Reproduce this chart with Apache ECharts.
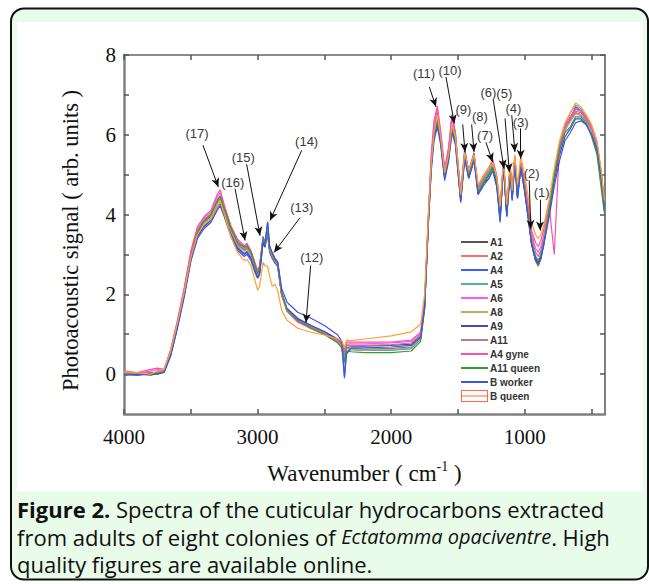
<!DOCTYPE html>
<html>
<head>
<meta charset="utf-8">
<script src="https://cdn.jsdelivr.net/npm/echarts@6/dist/echarts.min.js"></script>
<style>
  html, body { margin: 0; padding: 0; background: #fff; }
  #chart { width: 649px; height: 584px; }
</style>
</head>
<body>
<div id="chart"></div>
<script>
// wavenumbers (cm-1) shared by all spectra
const wavenumber = [
  4000, 3900, 3800, 3750, 3700, 3650, 3600, 3550, 3500, 3450,
  3400, 3350, 3300, 3280, 3250, 3200, 3150, 3100, 3080, 3050,
  3020, 3000, 2985, 2960, 2945, 2925, 2910, 2890, 2870, 2850,
  2820, 2780, 2700, 2600, 2500, 2400, 2370, 2350, 2335, 2300,
  2200, 2000, 1850, 1780, 1750, 1720, 1700, 1680, 1655, 1630,
  1600, 1570, 1545, 1520, 1480, 1450, 1420, 1380, 1350, 1310,
  1270, 1240, 1210, 1185, 1160, 1135, 1110, 1095, 1075, 1055,
  1030, 1005, 975, 950, 920, 900, 880, 860, 820, 780,
  740, 700, 660, 620, 580, 540, 500, 460, 430, 405
];

// photoacoustic signal, one list per sample
const A1 = [
  0.00, 0.03, -0.02, 0.04, 0.08, 0.55, 1.25, 2.05, 2.95, 3.55,
  3.80, 3.95, 4.30, 4.40, 4.10, 3.60, 3.25, 3.10, 3.15, 3.00,
  2.70, 2.50, 2.62, 3.35, 3.25, 3.55, 3.10, 2.95, 2.82, 2.75,
  2.00, 1.60, 1.35, 1.18, 1.03, 0.83, 0.74, 0.35, 0.68, 0.64,
  0.62, 0.64, 0.68, 0.92, 1.70, 4.00, 5.30, 6.00, 6.40, 5.90,
  5.00, 5.50, 6.20, 5.90, 4.40, 5.50, 5.00, 5.45, 4.60, 4.85,
  5.05, 5.25, 4.85, 3.95, 5.30, 4.05, 5.15, 4.45, 5.40, 4.50,
  5.25, 4.75, 4.00, 3.35, 2.95, 2.85, 3.00, 3.30, 4.10, 5.00,
  5.70, 6.15, 6.35, 6.55, 6.50, 6.35, 6.10, 5.70, 5.00, 4.20
];
const A2 = [
  0.02, 0.00, 0.05, 0.02, 0.10, 0.60, 1.30, 2.10, 3.00, 3.62,
  3.88, 4.00, 4.38, 4.47, 4.15, 3.65, 3.30, 3.15, 3.20, 3.05,
  2.75, 2.55, 2.68, 3.40, 3.30, 3.60, 3.15, 3.00, 2.85, 2.78,
  2.02, 1.58, 1.32, 1.15, 1.00, 0.80, 0.72, 0.45, 0.66, 0.62,
  0.60, 0.62, 0.66, 0.90, 1.65, 3.95, 5.25, 6.05, 6.45, 5.95,
  5.05, 5.55, 6.25, 5.95, 4.45, 5.55, 5.05, 5.50, 4.65, 4.90,
  5.10, 5.30, 4.90, 4.00, 5.35, 4.10, 5.20, 4.50, 5.45, 4.55,
  5.30, 4.80, 4.00, 3.30, 2.85, 2.70, 2.90, 3.25, 4.05, 4.95,
  5.65, 6.20, 6.45, 6.65, 6.60, 6.45, 6.20, 5.80, 5.10, 4.30
];
const A4 = [
  -0.02, 0.02, 0.00, 0.03, 0.06, 0.50, 1.20, 2.00, 2.90, 3.48,
  3.72, 3.88, 4.20, 4.30, 4.02, 3.52, 3.18, 3.02, 3.08, 2.92,
  2.62, 2.42, 2.55, 3.45, 3.30, 3.80, 3.20, 3.00, 2.85, 2.78,
  2.05, 1.65, 1.40, 1.22, 1.06, 0.85, 0.70, -0.05, 0.55, 0.62,
  0.60, 0.60, 0.64, 0.88, 1.75, 4.05, 5.35, 6.10, 6.55, 6.00,
  5.10, 5.65, 6.50, 6.05, 4.50, 5.65, 5.10, 5.55, 4.55, 4.80,
  4.90, 5.10, 4.70, 3.80, 5.35, 3.95, 5.25, 4.40, 5.45, 4.45,
  5.30, 4.75, 3.95, 3.25, 2.85, 2.75, 2.90, 3.25, 4.00, 4.90,
  5.60, 6.10, 6.40, 6.70, 6.60, 6.40, 6.15, 5.75, 4.90, 4.10
];
const A5 = [
  0.01, 0.04, 0.00, 0.05, 0.09, 0.56, 1.27, 2.06, 2.97, 3.58,
  3.84, 3.98, 4.35, 4.45, 4.12, 3.62, 3.28, 3.13, 3.17, 3.02,
  2.72, 2.52, 2.64, 3.36, 3.26, 3.58, 3.12, 2.97, 2.84, 2.76,
  2.00, 1.58, 1.33, 1.16, 1.01, 0.80, 0.72, 0.40, 0.66, 0.62,
  0.60, 0.61, 0.65, 0.90, 1.68, 3.98, 5.28, 6.05, 6.45, 5.92,
  5.02, 5.52, 6.22, 5.92, 4.42, 5.52, 5.02, 5.47, 4.62, 4.88,
  5.08, 5.28, 4.88, 3.98, 5.32, 4.08, 5.18, 4.48, 5.42, 4.52,
  5.28, 4.78, 4.02, 3.35, 2.92, 2.82, 2.98, 3.30, 4.12, 5.05,
  5.78, 6.25, 6.55, 6.75, 6.65, 6.45, 6.20, 5.75, 5.05, 4.25
];
const A6 = [
  0.05, 0.02, 0.08, 0.12, 0.10, 0.60, 1.32, 2.12, 3.05, 3.65,
  3.92, 4.05, 4.45, 4.55, 4.22, 3.70, 3.35, 3.20, 3.25, 3.08,
  2.78, 2.58, 2.70, 3.38, 3.28, 3.58, 3.15, 3.00, 2.86, 2.78,
  2.00, 1.58, 1.30, 1.14, 0.99, 0.82, 0.78, 0.55, 0.75, 0.76,
  0.76, 0.78, 0.82, 1.02, 1.80, 4.10, 5.45, 6.25, 6.65, 6.05,
  5.10, 5.60, 6.40, 6.00, 4.50, 5.50, 5.05, 5.45, 4.70, 4.95,
  5.15, 5.35, 4.95, 4.10, 5.30, 4.15, 5.15, 4.55, 5.40, 4.60,
  5.25, 4.85, 4.20, 3.55, 3.15, 3.05, 3.20, 3.45, 4.15, 4.95,
  5.65, 6.10, 6.35, 6.55, 6.50, 6.35, 6.10, 5.75, 5.05, 4.30
];
const A8 = [
  -0.01, 0.01, -0.03, 0.02, 0.07, 0.52, 1.22, 2.02, 2.92, 3.52,
  3.78, 3.92, 4.28, 4.38, 4.08, 3.58, 3.22, 3.08, 3.12, 2.98,
  2.68, 2.48, 2.60, 3.32, 3.22, 3.52, 3.08, 2.92, 2.80, 2.72,
  1.98, 1.58, 1.33, 1.17, 1.02, 0.80, 0.70, 0.20, 0.60, 0.62,
  0.60, 0.62, 0.66, 0.90, 1.68, 3.98, 5.28, 5.98, 6.38, 5.88,
  4.98, 5.48, 6.18, 5.88, 4.38, 5.48, 4.98, 5.42, 4.58, 4.82,
  5.02, 5.22, 4.82, 3.92, 5.28, 4.02, 5.12, 4.42, 5.38, 4.48,
  5.22, 4.72, 3.98, 3.32, 2.92, 2.82, 2.98, 3.28, 4.08, 4.98,
  5.68, 6.12, 6.32, 6.52, 6.48, 6.32, 6.08, 5.68, 4.98, 4.18
];
const A9 = [
  0.00, -0.03, 0.01, 0.00, 0.05, 0.48, 1.18, 1.96, 2.86, 3.45,
  3.70, 3.85, 4.18, 4.28, 4.00, 3.50, 3.15, 3.00, 3.05, 2.90,
  2.60, 2.42, 2.52, 3.28, 3.18, 3.50, 3.05, 2.90, 2.78, 2.70,
  1.98, 1.62, 1.38, 1.22, 1.07, 0.88, 0.78, 0.50, 0.72, 0.70,
  0.70, 0.72, 0.75, 0.95, 1.72, 3.95, 5.20, 5.90, 6.30, 5.80,
  4.92, 5.40, 6.10, 5.82, 4.35, 5.42, 4.92, 5.38, 4.52, 4.78,
  4.98, 5.18, 4.78, 3.90, 5.22, 3.98, 5.08, 4.38, 5.32, 4.42,
  5.18, 4.68, 3.95, 3.30, 2.90, 2.80, 2.95, 3.25, 4.00, 4.85,
  5.50, 5.95, 6.15, 6.40, 6.40, 6.25, 6.00, 5.60, 4.95, 4.15
];
const A11 = [
  0.03, 0.00, 0.02, 0.06, 0.09, 0.57, 1.28, 2.08, 2.98, 3.60,
  3.85, 3.98, 4.34, 4.44, 4.13, 3.63, 3.27, 3.12, 3.18, 3.02,
  2.72, 2.52, 2.64, 3.34, 3.24, 3.54, 3.10, 2.95, 2.82, 2.74,
  1.98, 1.58, 1.32, 1.16, 1.01, 0.82, 0.76, 0.50, 0.72, 0.72,
  0.72, 0.74, 0.78, 0.98, 1.74, 4.02, 5.32, 6.08, 6.48, 5.95,
  5.02, 5.52, 6.25, 5.92, 4.45, 5.52, 5.02, 5.48, 4.65, 4.90,
  5.12, 5.32, 4.92, 4.05, 5.32, 4.12, 5.18, 4.52, 5.42, 4.58,
  5.28, 4.82, 4.12, 3.45, 3.05, 2.95, 3.10, 3.40, 4.15, 5.02,
  5.72, 6.18, 6.40, 6.60, 6.55, 6.40, 6.15, 5.75, 5.05, 4.25
];
const A4gyne = [
  0.08, 0.04, 0.12, 0.15, 0.12, 0.62, 1.35, 2.15, 3.08, 3.70,
  3.95, 4.10, 4.52, 4.62, 4.25, 3.72, 3.38, 3.22, 3.28, 3.10,
  2.80, 2.60, 2.72, 3.40, 3.30, 3.60, 3.18, 3.02, 2.88, 2.80,
  2.02, 1.60, 1.32, 1.15, 1.00, 0.85, 0.82, 0.60, 0.80, 0.80,
  0.80, 0.80, 0.85, 1.05, 1.85, 4.15, 5.55, 6.35, 6.72, 6.10,
  5.15, 5.70, 6.50, 6.05, 4.55, 5.55, 5.05, 5.50, 4.72, 4.98,
  5.18, 5.38, 4.98, 4.15, 5.35, 4.20, 5.20, 4.60, 5.45, 4.65,
  5.30, 4.90, 4.25, 3.60, 3.30, 3.20, 3.35, 3.60, 4.30, 3.00,
  5.75, 6.20, 6.45, 6.65, 6.60, 6.45, 6.20, 5.80, 5.10, 4.35
];
const A11queen = [
  0.00, -0.02, 0.03, 0.00, 0.06, 0.50, 1.22, 2.02, 2.92, 3.55,
  3.85, 4.00, 4.36, 4.46, 4.15, 3.66, 3.30, 3.18, 3.22, 3.06,
  2.74, 2.52, 2.66, 3.38, 3.30, 3.58, 3.16, 3.02, 2.86, 2.80,
  2.05, 1.62, 1.35, 1.15, 1.00, 0.78, 0.66, 0.30, 0.58, 0.56,
  0.54, 0.54, 0.58, 0.82, 1.62, 3.90, 5.25, 6.00, 6.35, 5.85,
  4.95, 5.45, 6.15, 5.85, 4.35, 5.45, 4.95, 5.40, 4.55, 4.80,
  5.00, 5.20, 4.80, 3.90, 5.25, 4.00, 5.10, 4.40, 5.35, 4.45,
  5.20, 4.70, 3.95, 3.28, 2.85, 2.72, 2.88, 3.20, 4.05, 4.95,
  5.65, 6.05, 6.20, 6.45, 6.45, 6.30, 5.95, 5.50, 4.70, 4.05
];
const Bworker = [
  -0.03, 0.00, -0.02, 0.01, 0.04, 0.46, 1.15, 1.92, 2.82, 3.40,
  3.65, 3.80, 4.12, 4.22, 3.95, 3.45, 3.10, 2.95, 3.00, 2.85,
  2.55, 2.40, 2.50, 3.30, 3.25, 3.82, 3.20, 3.05, 2.90, 2.82,
  2.15, 1.80, 1.55, 1.40, 1.22, 0.98, 0.82, -0.10, 0.50, 0.66,
  0.66, 0.68, 0.72, 0.92, 1.70, 3.90, 5.10, 5.85, 6.20, 5.75,
  4.85, 5.35, 6.05, 5.75, 4.30, 5.40, 4.90, 5.35, 4.50, 4.72,
  4.90, 5.10, 4.70, 3.85, 5.20, 3.95, 5.05, 4.35, 5.30, 4.40,
  5.15, 4.65, 3.90, 3.25, 2.85, 2.78, 2.92, 3.22, 3.90, 4.70,
  5.35, 5.85, 6.05, 6.30, 6.35, 6.25, 6.00, 5.65, 5.00, 4.20
];
const Bqueen = [
  0.06, 0.03, 0.00, 0.08, 0.12, 0.58, 1.28, 2.05, 2.92, 3.50,
  3.75, 3.88, 4.20, 4.32, 4.02, 3.45, 3.05, 2.85, 2.88, 2.72,
  2.35, 2.10, 2.20, 2.80, 2.72, 2.70, 2.45, 2.20, 2.25, 2.10,
  1.60, 1.35, 1.15, 1.05, 0.98, 0.88, 0.85, 0.65, 0.85, 0.84,
  0.88, 0.96, 1.06, 1.25, 2.00, 4.10, 5.30, 6.05, 6.50, 5.95,
  5.05, 5.50, 6.25, 5.95, 4.50, 5.55, 5.10, 5.50, 4.75, 4.95,
  5.15, 5.30, 4.95, 4.20, 5.35, 4.25, 5.25, 4.60, 5.50, 4.75,
  5.45, 5.05, 4.45, 3.80, 3.50, 3.40, 3.50, 3.70, 4.35, 5.15,
  5.85, 6.30, 6.55, 6.80, 6.70, 6.50, 6.25, 5.85, 5.15, 4.35
];

const seriesNames = ['A1', 'A2', 'A4', 'A5', 'A6', 'A8', 'A9', 'A11', 'A4 gyne', 'A11 queen', 'B worker', 'B queen'];
const seriesColors = ['#555555', '#ff6b6b', '#3d5cff', '#4fb5a5', '#ff55ff', '#b8ae6e', '#4848c0', '#c07c7c', '#ff4fa5', '#2ea02e', '#3f55e0', '#ffa033'];
const seriesValues = [A1, A2, A4, A5, A6, A8, A9, A11, A4gyne, A11queen, Bworker, Bqueen];

const xTicks = [500, 1000, 1500, 2000, 2500, 3000, 3500, 4000];
const xLabels = [1000, 2000, 3000, 4000];
const yTicks = [0, 1, 2, 3, 4, 5, 6, 7, 8];
const yLabels = [0, 2, 4, 6, 8];

// peak annotations: label position, arrow tail and arrow head (wavenumber, signal)
const peakNames = ['(1)', '(2)', '(3)', '(4)', '(5)', '(6)', '(7)', '(8)', '(9)', '(10)', '(11)', '(12)', '(13)', '(14)', '(15)', '(16)', '(17)'];
const peakLabelAt = [
  [874, 4.56], [949, 5.02], [1031, 6.32], [1086, 6.66], [1154, 7.04], [1273, 7.06],
  [1298, 5.99], [1336, 6.47], [1460, 6.64], [1560, 7.62], [1755, 7.54],
  [2595, 2.93], [2670, 4.18], [2633, 5.82], [3107, 5.44], [3186, 4.81], [3454, 6.04]
];
const arrowFrom = [
  [886, 4.37], [967, 4.86], [1031, 6.16], [1098, 6.49], [1148, 6.41], [1236, 6.87],
  [1291, 5.81], [1398, 6.26], [1465, 6.26], [1590, 7.45], [1715, 7.20],
  [2603, 2.72], [2683, 3.92], [2670, 5.61], [3082, 5.26], [3169, 4.65], [3409, 5.74]
];
const arrowTo = [
  [886, 3.60], [956, 3.64], [1031, 5.40], [1074, 5.57], [1116, 5.06], [1156, 5.15],
  [1241, 5.32], [1380, 5.57], [1448, 5.57], [1528, 6.28], [1665, 6.70],
  [2638, 1.29], [2877, 3.05], [2907, 3.85], [2982, 3.47], [3094, 3.35], [3294, 4.69]
];

const chart = echarts.init(document.getElementById('chart'), null, { renderer: 'svg' });

const serif = 'Liberation Serif';
const sans = 'Liberation Sans';

// legend icons: thin line centred in a 27x12 box, and the boxed B queen key
const lineIcon = 'path://M0,0h0.05v0.05h-0.05zM0,5.1h27v1.8h-27zM26.95,11.95h0.05v0.05h-0.05z';
const boxIcon = 'path://M0,0h27v12h-27zM1,1v10h25v-10zM1,5.4h25v1.2h-25z';

const series = seriesValues.map((vals, i) => ({
  name: seriesNames[i],
  type: 'line',
  symbol: 'none',
  showSymbol: false,
  silent: true,
  animation: false,
  data: wavenumber.map((w, j) => [w, vals[j]]),
  lineStyle: { width: 1.2, color: seriesColors[i] },
  itemStyle: { color: seriesColors[i] }
}));

// arrows and peak numbers ride on the last series
series[series.length - 1].markLine = {
  silent: true,
  animation: false,
  symbol: ['none', 'arrow'],
  symbolSize: [6, 9],
  lineStyle: { color: '#111', width: 1, type: 'solid' },
  label: { show: false },
  emphasis: { disabled: true },
  data: arrowFrom.map((f, i) => [{ coord: f }, { coord: arrowTo[i] }])
};
series[series.length - 1].markPoint = {
  silent: true,
  animation: false,
  symbol: 'rect',
  symbolSize: 1,
  itemStyle: { color: 'rgba(0,0,0,0)' },
  label: {
    show: true,
    position: 'inside',
    color: '#3a3a3a',
    fontSize: 13,
    fontFamily: sans,
    formatter: p => p.name
  },
  data: peakNames.map((t, i) => ({ name: t, coord: peakLabelAt[i] }))
};

const legendData = seriesNames.map(n => n === 'B queen'
  ? { name: n, icon: boxIcon, itemStyle: { color: '#ff6a45' } }
  : { name: n, icon: lineIcon });

const plain = v => String(v);

const option = {
  backgroundColor: '#fff',
  animation: false,
  grid: { left: 124, right: 44, top: 55, bottom: 170 },
  legend: {
    orient: 'vertical',
    left: 456,
    top: 231,
    itemWidth: 27,
    itemHeight: 12,
    itemGap: 2,
    selectedMode: false,
    itemStyle: { borderWidth: 0 },
    textStyle: { fontSize: 10, fontWeight: 'bold', color: '#333', fontFamily: sans, padding: [0, 0, 0, -3] },
    data: legendData
  },
  xAxis: [{
    type: 'value',
    inverse: true,
    min: 400,
    max: 4000,
    name: '{a|Wavenumber ( cm}{s|-1}{a| )}',
    nameLocation: 'middle',
    nameGap: 45,
    nameTextStyle: {
      rich: {
        a: { fontFamily: serif, fontSize: 23, color: '#111' },
        s: { fontFamily: serif, fontSize: 14, color: '#111', padding: [0, 0, 14, 0] }
      }
    },
    axisLine: { onZero: false, lineStyle: { color: '#808080', width: 2.5 } },
    axisTick: { inside: true, length: 5, customValues: xTicks, lineStyle: { color: '#555', width: 1.5 } },
    axisLabel: { customValues: xLabels, formatter: plain, margin: 12, fontFamily: serif, fontSize: 21, color: '#111' },
    splitLine: { show: false }
  }, {
    type: 'value',
    inverse: true,
    position: 'top',
    min: 400,
    max: 4000,
    axisLine: { onZero: false, lineStyle: { color: '#666', width: 1.5 } },
    axisTick: { inside: true, length: 5, customValues: xTicks, lineStyle: { color: '#555', width: 1.5 } },
    axisLabel: { show: false },
    splitLine: { show: false }
  }],
  yAxis: [{
    type: 'value',
    min: -1,
    max: 8,
    name: 'Photoacoustic signal ( arb. units )',
    nameLocation: 'middle',
    nameGap: 42,
    nameTextStyle: { fontFamily: serif, fontSize: 22.5, color: '#111', padding: [0, 12, 0, 0] },
    axisLine: { onZero: false, lineStyle: { color: '#808080', width: 2.5 } },
    axisTick: { inside: true, length: 5, customValues: yTicks, lineStyle: { color: '#555', width: 1.5 } },
    axisLabel: { customValues: yLabels, formatter: plain, margin: 8, fontFamily: serif, fontSize: 21, color: '#111' },
    splitLine: { show: false }
  }, {
    type: 'value',
    position: 'right',
    min: -1,
    max: 8,
    axisLine: { show: true, onZero: false, lineStyle: { color: '#555', width: 1.5 } },
    axisTick: { show: true, inside: true, length: 5, customValues: yTicks, lineStyle: { color: '#555', width: 1.5 } },
    axisLabel: { show: false },
    splitLine: { show: false }
  }],
  graphic: [
    {
      type: 'rect',
      z: -10,
      silent: true,
      shape: { x: 11, y: 8.5, width: 637, height: 571, r: 13 },
      style: { fill: '#e9fbe9', stroke: '#111', lineWidth: 2 }
    },
    {
      type: 'rect',
      z: -9,
      silent: true,
      shape: { x: 17, y: 22, width: 626, height: 469 },
      style: { fill: '#ffffff' }
    },
    {
      type: 'text',
      z: 5,
      silent: true,
      left: 17,
      top: 498,
      style: {
        text: '{b|Figure 2.}{n| Spectra of the cuticular hydrocarbons extracted}\n' +
              '{n|from adults of eight colonies of }{i|Ectatomma opaciventre}{n|. High}\n' +
              '{n|quality figures are available online.}',
        rich: {
          b: { fontFamily: 'Open Sans', fontWeight: 'bold', fontSize: 22, lineHeight: 27.5, fill: '#111' },
          n: { fontFamily: 'Open Sans', fontSize: 22, lineHeight: 27.5, fill: '#111' },
          i: { fontFamily: 'Open Sans', fontStyle: 'italic', fontSize: 20, lineHeight: 27.5, fill: '#111' }
        }
      }
    }
  ],
  series: series
};

chart.setOption(option);
</script>
</body>
</html>
